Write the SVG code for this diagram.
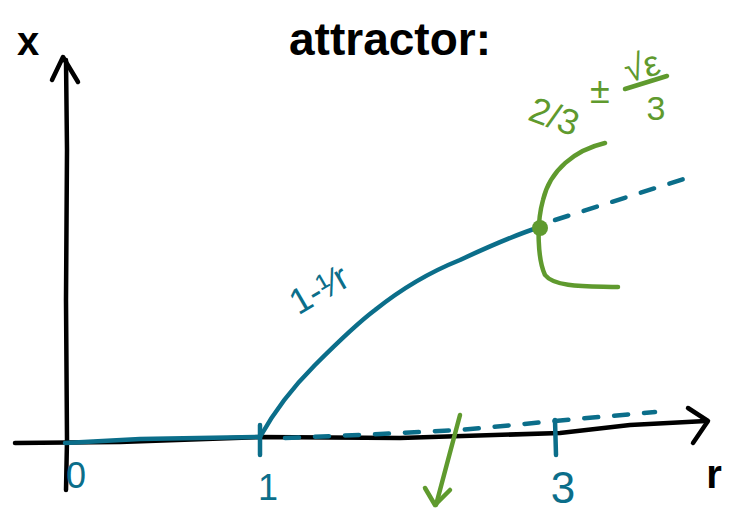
<svg xmlns="http://www.w3.org/2000/svg" width="744" height="512" viewBox="0 0 744 512">
<style>
.k{fill:none;stroke:#000;stroke-width:4.5;stroke-linecap:round;stroke-linejoin:round}
.t{fill:none;stroke:#0b6e8a;stroke-width:4.5;stroke-linecap:round;stroke-linejoin:round}
.td{fill:none;stroke:#0b6e8a;stroke-width:4.5;stroke-linecap:round;stroke-dasharray:14 16}
.g{fill:none;stroke:#5f9a2e;stroke-width:4.5;stroke-linecap:round;stroke-linejoin:round}
.lk{font-family:"Liberation Sans",sans-serif;fill:#000}
.lt{font-family:"Liberation Sans",sans-serif;fill:#0b6e8a}
.lg{font-family:"Liberation Sans",sans-serif;fill:#5f9a2e}
</style>
<rect width="744" height="512" fill="#fff"/>
<g id="title"><text class="lk" x="390" y="55" font-size="46" font-weight="bold" text-anchor="middle">attractor:</text></g>
<g id="axes">
<path class="k" d="M66,490 L67,440 L66,300 L67,150 L66,60"/>
<path class="k" d="M52,80 L63,57 L78,82"/>
<path class="k" d="M15,443 L120,442 L260,437 L400,438 L560,433 L630,425 L706,421"/>
<path class="k" d="M688,408 L708,421 L693,443"/>
<text class="lk" x="28" y="55" font-size="40" font-weight="bold" text-anchor="middle">x</text>
<text class="lk" x="714" y="488" font-size="40" font-weight="bold" text-anchor="middle">r</text>
</g>
<g id="ticks">
<path class="t" d="M260,425 L260,455"/>
<path class="t" d="M555,420 L556,455"/>
<text class="lt" x="76" y="488" font-size="36" text-anchor="middle">0</text>
<text class="lt" x="268" y="500" font-size="36" text-anchor="middle">1</text>
<text class="lt" x="563" y="503" font-size="44" text-anchor="middle">3</text>
</g>
<g id="connectors">
<path class="t" d="M65,443 L140,439 L260,437"/>
<path class="t" d="M260,437 C275,410 295,385 315,365 C335,345 355,325 375,310 C400,290 430,272 460,260 C490,246 515,235 540,227"/>
<path class="td" d="M555,220 L690,177"/>
<path class="td" d="M285,438 L380,434 L460,430 L555,421 L655,412"/>
<path class="g" d="M460,415 L436,505"/>
<path class="g" d="M425,488 L435,505 L450,490"/>
<path class="g" d="M605,143 C575,150 550,170 543,200 C536,225 538,260 545,275 C555,288 590,286 618,287"/>
<circle cx="540" cy="228" r="8" fill="#5f9a2e"/>
</g>
<g id="labels">
<text class="lt" x="325" y="300" font-size="36" text-anchor="middle" transform="rotate(-30 325 300)">1-¹⁄r</text>
<text class="lg" x="550" y="128" font-size="36" text-anchor="middle" transform="rotate(20 550 128)">2/3</text>
<text class="lg" x="600" y="103" font-size="36" text-anchor="middle">±</text>
<text class="lg" x="645" y="78" font-size="36" font-family="DejaVu Sans" text-anchor="middle" transform="rotate(-15 645 78)">√ε</text>
<path class="g" d="M625,89 L667,76"/>
<text class="lg" x="656" y="120" font-size="34" text-anchor="middle">3</text>
</g>
</svg>
